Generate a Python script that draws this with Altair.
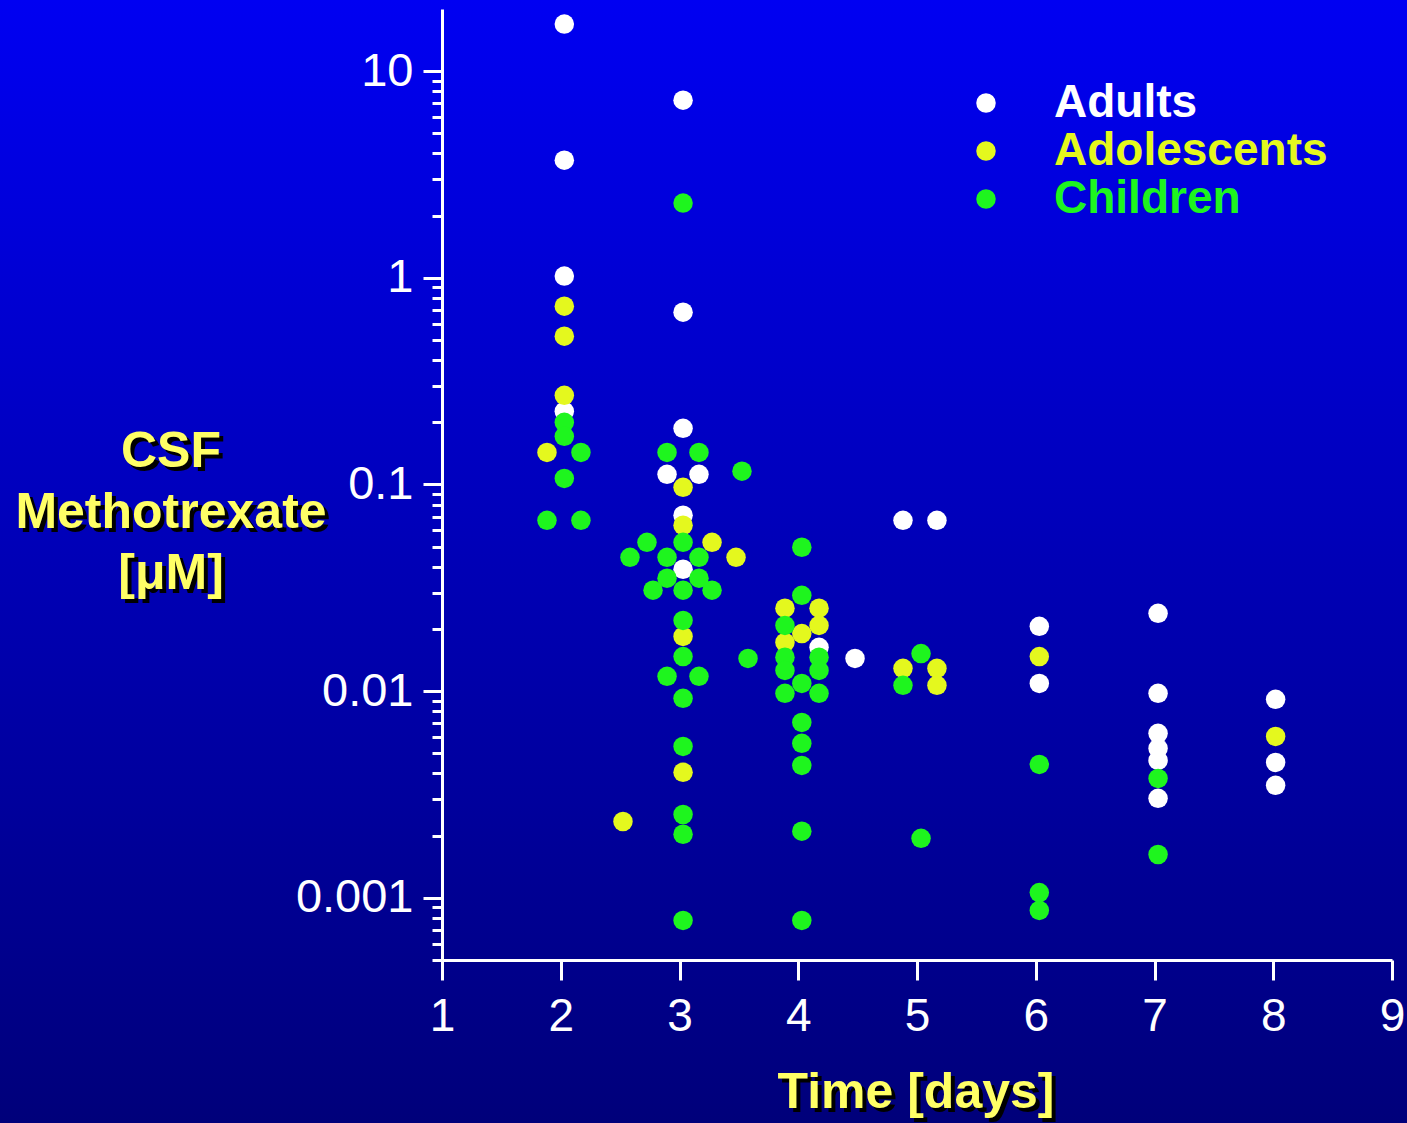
import altair as alt
import pandas as pd

# Patient groups and their marker colours
groups = ["Adults", "Adolescents", "Children"]
group_colors = ["#ffffff", "#e4f81e", "#1ef51e"]

# CSF methotrexate concentration [µM] by time after dose [days]
adults_day = [2.03, 2.03, 2.03, 2.03,
              3.03, 3.03, 3.03, 2.895, 3.164, 3.03, 3.03,
              4.175, 4.478,
              4.882, 5.168,
              6.03, 6.03,
              7.03, 7.03, 7.03, 7.03, 7.03, 7.03,
              8.02, 8.02, 8.02]
adults_conc = [16.9, 3.71, 1.02, 0.226,
               7.24, 0.682, 0.187, 0.112, 0.112, 0.0710, 0.0389,
               0.0163, 0.0144,
               0.0671, 0.0671,
               0.0206, 0.0109,
               0.0238, 0.00976, 0.00625, 0.00528, 0.00462, 0.00303,
               0.00913, 0.00452, 0.00350]

adolescents_day = [2.03, 2.03, 2.03, 1.884,
                   3.03, 3.03, 3.274, 3.476, 3.03, 3.03, 2.524,
                   3.888, 4.175, 4.175, 4.03, 3.888,
                   4.882, 5.168, 5.168,
                   6.03,
                   8.02]
adolescents_conc = [0.729, 0.522, 0.270, 0.143,
                    0.0969, 0.0635, 0.0525, 0.0444, 0.0184, 0.00405, 0.00234,
                    0.0252, 0.0252, 0.0208, 0.0190, 0.0172,
                    0.0129, 0.0129, 0.01067,
                    0.0147,
                    0.00604]

children_day = [2.03, 2.03, 2.17, 2.03, 1.884, 2.17,
                3.03, 2.895, 3.164, 3.526, 3.03, 2.726, 2.583, 2.895, 3.164,
                2.895, 3.164, 2.777, 3.03, 3.274, 3.03, 3.03, 2.895, 3.164,
                3.03, 3.03, 3.03, 3.03, 3.03, 3.577,
                4.03, 4.03, 3.888, 3.888, 4.175, 3.888, 4.175, 4.03, 3.888,
                4.175, 4.03, 4.03, 4.03, 4.03, 4.03,
                5.034, 4.882, 5.034,
                6.03, 6.03, 6.03,
                7.03, 7.03]
children_conc = [0.200, 0.171, 0.143, 0.107, 0.0671, 0.0671,
                 2.30, 0.143, 0.143, 0.116, 0.0525, 0.0525, 0.0444, 0.0444, 0.0444,
                 0.0352, 0.0352, 0.0308, 0.0308, 0.0308, 0.0220, 0.0147, 0.0118, 0.0118,
                 0.00923, 0.0054, 0.00253, 0.00203, 0.000777, 0.0144,
                 0.0497, 0.0291, 0.0208, 0.0146, 0.0146, 0.0126, 0.0126, 0.0109, 0.00976,
                 0.00976, 0.00706, 0.00559, 0.00437, 0.00210, 0.000777,
                 0.0152, 0.01067, 0.00194,
                 0.00442, 0.00106, 0.000869,
                 0.00378, 0.00162]

# Axis ticks
x_ticks = [1, 2, 3, 4, 5, 6, 7, 8, 9]
y_major = [0.001, 0.01, 0.1, 1, 10]
y_minor = [0.0005, 0.0006, 0.0007, 0.0008, 0.0009,
           0.002, 0.003, 0.004, 0.005, 0.006, 0.007, 0.008, 0.009,
           0.02, 0.03, 0.04, 0.05, 0.06, 0.07, 0.08, 0.09,
           0.2, 0.3, 0.4, 0.5, 0.6, 0.7, 0.8, 0.9,
           2, 3, 4, 5, 6, 7, 8, 9]

y_title = ["CSF", "Methotrexate", "[μM]"]
x_title = "Time [days]"

rows = []
for rank, (name, days, concs) in enumerate([
        ("Adults", adults_day, adults_conc),
        ("Adolescents", adolescents_day, adolescents_conc),
        ("Children", children_day, children_conc)]):
    for d, c in zip(days, concs):
        rows.append({"group": name, "day": d, "conc": c, "rank": rank})
points_df = pd.DataFrame(rows)

W, H = 950, 951
PAD = {"left": 442, "top": 9, "right": 15, "bottom": 163}
FONT = "Liberation Sans"
TITLE_YELLOW = "#ffff66"

y_scale = alt.Scale(type="log", domain=[0.0005, 20], nice=False)
one_row = pd.DataFrame({"k": [0]})

# Full-canvas vertical blue gradient
background = alt.Chart(one_row).mark_rect(
    color=alt.Gradient(
        gradient="linear",
        stops=[alt.GradientStop(color="#0000f2", offset=0),
               alt.GradientStop(color="#00007a", offset=1)],
        x1=0, x2=0, y1=0, y2=1,
    )
).encode(
    x=alt.value(-PAD["left"]), x2=alt.value(W + PAD["right"]),
    y=alt.value(-PAD["top"]), y2=alt.value(H + PAD["bottom"]),
)


def title_text(text, x, y, color, baseline):
    return alt.Chart(one_row).mark_text(
        font=FONT, fontWeight="bold", fontSize=50, align="center",
        baseline=baseline, lineHeight=61, color=color,
    ).encode(x=alt.value(x), y=alt.value(y), text=alt.value(text))


SH = 4
y_title_shadow = title_text(y_title, -271 + SH, 443 + SH, "#000000", "middle")
y_title_main = title_text(y_title, -271, 443, TITLE_YELLOW, "middle")
x_title_shadow = title_text(x_title, 474 + SH, 1099 + SH, "#000000", "alphabetic")
x_title_main = title_text(x_title, 474, 1099, TITLE_YELLOW, "alphabetic")

# Minor log ticks on the left axis
minor_df = pd.DataFrame({"conc": y_minor})
minor_ticks = alt.Chart(minor_df).mark_point(opacity=0).encode(
    y=alt.Y("conc:Q", scale=y_scale, axis=alt.Axis(
        orient="left", values=y_minor, labels=False, domain=False,
        grid=False, title="", tickSize=10, tickWidth=3,
        tickColor="white", zindex=1,
    ))
)

label_color_expr = ("datum.label == 'Adults' ? '#ffffff' : "
                    "datum.label == 'Adolescents' ? '#e4f81e' : '#1ef51e'")

scatter = alt.Chart(points_df).mark_circle(size=380, opacity=1).encode(
    x=alt.X("day:Q", scale=alt.Scale(domain=[1, 9], nice=False, zero=False),
            axis=alt.Axis(values=x_ticks, format="d", title="", grid=False,
                          tickSize=20, tickWidth=3, tickColor="white",
                          domainWidth=3, domainColor="white",
                          labelColor="white", labelFont=FONT,
                          labelFontSize=46, labelPadding=14,
                          labelFlush=False, labelOverlap=False, zindex=1)),
    y=alt.Y("conc:Q", scale=y_scale,
            axis=alt.Axis(orient="left", values=y_major, format="~g",
                          title="", grid=False, tickSize=19, tickWidth=3,
                          tickColor="white", domainWidth=3,
                          domainColor="white", labelColor="white",
                          labelFont=FONT, labelFontSize=47, labelPadding=10,
                          labelOverlap=False, labelFlush=False, zindex=1)),
    color=alt.Color("group:N",
                    scale=alt.Scale(domain=groups, range=group_colors),
                    legend=alt.Legend(
                        title="", orient="none", legendX=521, legendY=71,
                        labelFont=FONT, labelFontSize=46,
                        labelFontWeight="bold", labelOffset=45,
                        labelLimit=600,
                        labelColor=alt.ExprRef(expr=label_color_expr),
                        symbolType="circle", symbolSize=380,
                        symbolStrokeWidth=0, symbolOpacity=1,
                        rowPadding=2, padding=0, zindex=1,
                    )),
    order=alt.Order("rank:Q"),
)

chart = alt.layer(
    background, y_title_shadow, y_title_main, x_title_shadow, x_title_main,
    minor_ticks, scatter,
).resolve_axis(y="independent").properties(
    width=W, height=H, padding=PAD,
    autosize=alt.AutoSizeParams(type="none"),
    background="#00007a",
).configure_view(strokeWidth=0)

chart.save("out.html", embed_options={"renderer": "svg", "actions": False})
